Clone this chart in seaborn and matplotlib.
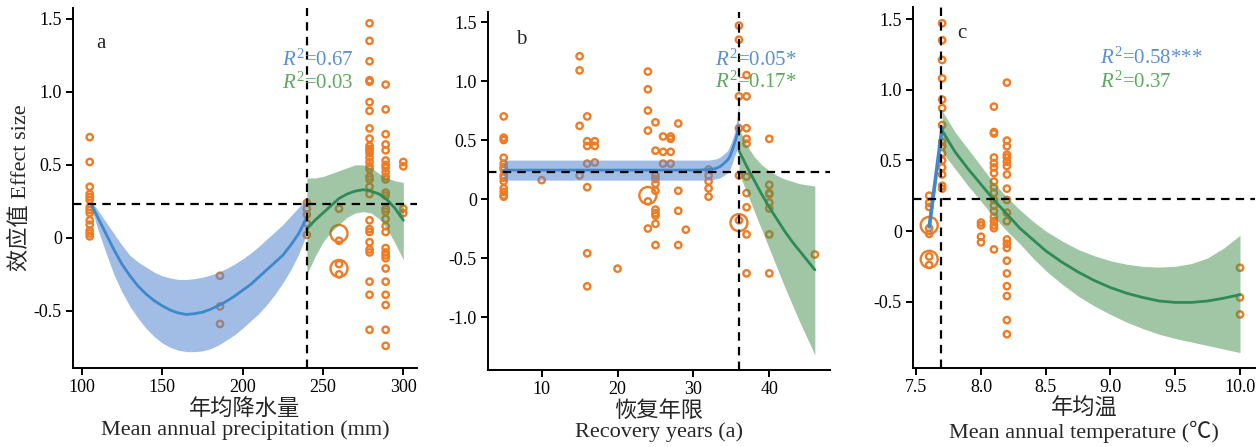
import numpy as np
import pandas as pd
import matplotlib
matplotlib.use("Agg")
import matplotlib.pyplot as plt
import seaborn as sns

sns.set_style("ticks")
plt.rcParams["font.family"] = ["Liberation Serif", "Noto Sans CJK SC"]
plt.rcParams["mathtext.fontset"] = "custom"
plt.rcParams["mathtext.rm"] = "Liberation Serif"
plt.rcParams["mathtext.it"] = "Liberation Serif:italic"
plt.rcParams["axes.unicode_minus"] = False

# ---------------- data: panel a (precipitation) ----------------
a_cols = [105, 186, 240, 260, 279, 289, 300]
a_vals = [
    [0.69, 0.52, 0.35, 0.30, 0.28, 0.26, 0.21, 0.19, 0.17, 0.12, 0.09, 0.05, 0.03, 0.01],
    [-0.26, -0.47, -0.59],
    [0.24, 0.20, 0.16, 0.10, 0.02],
    [0.20, -0.02, -0.18, -0.25],
    [1.47, 1.35, 1.21, 1.08, 1.07, 0.93, 0.87, 0.75, 0.68, 0.63, 0.61, 0.60, 0.58, 0.55,
     0.52, 0.49, 0.47, 0.42, 0.40, 0.35, 0.30, 0.12, 0.06, 0.04, -0.03, -0.08, -0.10,
     -0.30, -0.39, -0.63],
    [1.05, 0.88, 0.71, 0.64, 0.60, 0.53, 0.50, 0.48, 0.45, 0.42, 0.40, 0.31, 0.29, 0.20,
     0.18, 0.13, 0.08, 0.04, -0.07, -0.10, -0.12, -0.14, -0.21, -0.30, -0.39, -0.46,
     -0.63, -0.74],
    [0.52, 0.49, 0.20, 0.17],
]
a_big_x = [260, 260]
a_big_y = [0.03, -0.21]

a_blue_x = [106, 110, 115, 120, 125, 130, 135, 140, 145, 150, 155, 160, 165, 170, 175, 180,
            185, 190, 195, 200, 205, 210, 215, 220, 225, 230, 235, 240]
a_blue_fit = [0.23, 0.14, 0.03, -0.08, -0.18, -0.26, -0.33, -0.385, -0.43, -0.465, -0.495,
              -0.515, -0.525, -0.52, -0.51, -0.49, -0.465, -0.435, -0.40, -0.36, -0.32,
              -0.27, -0.22, -0.17, -0.12, -0.05, 0.03, 0.14]
a_blue_lo = [0.21, 0.06, -0.10, -0.25, -0.37, -0.47, -0.55, -0.62, -0.675, -0.72, -0.75,
             -0.77, -0.78, -0.78, -0.775, -0.76, -0.735, -0.70, -0.665, -0.62, -0.57,
             -0.52, -0.46, -0.39, -0.31, -0.22, -0.11, 0.03]
a_blue_hi = [0.25, 0.19, 0.11, 0.03, -0.05, -0.12, -0.165, -0.20, -0.235, -0.26, -0.275,
             -0.285, -0.285, -0.28, -0.27, -0.255, -0.235, -0.21, -0.18, -0.145, -0.105,
             -0.06, -0.01, 0.04, 0.09, 0.15, 0.21, 0.27]

a_green_x = [240, 245, 250, 255, 260, 265, 270, 275, 280, 285, 290, 295, 300]
a_green_fit = [0.06, 0.12, 0.17, 0.22, 0.27, 0.30, 0.32, 0.33, 0.32, 0.30, 0.26, 0.20, 0.12]
a_green_lo = [-0.25, -0.13, -0.03, 0.04, 0.09, 0.14, 0.17, 0.18, 0.17, 0.13, 0.06, -0.04, -0.15]
a_green_hi = [0.41, 0.41, 0.42, 0.44, 0.46, 0.48, 0.50, 0.50, 0.48, 0.44, 0.41, 0.39, 0.38]

# ---------------- data: panel b (recovery years) ----------------
b_cols = [5, 10, 15, 16, 17, 20, 24, 25, 26, 27, 28, 29, 32, 36, 37, 40, 46]
b_vals = [
    [0.70, 0.52, 0.50, 0.35, 0.30, 0.27, 0.25, 0.20, 0.18, 0.15, 0.09, 0.06, 0.03, 0.02],
    [0.16],
    [1.21, 1.09, 0.62, 0.20],
    [0.70, 0.49, 0.45, 0.30, 0.10, -0.46, -0.74],
    [0.49, 0.45, 0.31],
    [-0.59],
    [1.08, 0.93, 0.75, 0.58, -0.02, -0.25],
    [0.65, 0.41, 0.20, 0.17, 0.13, 0.07, -0.09, -0.12, -0.14, -0.21, -0.39],
    [0.53, 0.40, 0.30],
    [0.53, 0.51, 0.40, 0.30],
    [0.64, 0.07, -0.10, -0.39],
    [-0.26],
    [0.25, 0.20, 0.15, 0.09, 0.02],
    [1.47, 1.35, 0.87, 0.60, 0.20, -0.18],
    [1.05, 0.87, 0.60, 0.51, 0.47, 0.19, 0.05, -0.07, -0.30, -0.63],
    [0.51, 0.12, 0.05, 0.04, -0.03, -0.08, -0.30, -0.63],
    [-0.47],
]
b_big_x = [24, 36]
b_big_y = [0.03, -0.20]

b_blue_x = [5, 10, 15, 20, 25, 30, 31, 32, 32.5, 33, 33.5, 34, 34.5, 34.8, 35.1, 35.4,
            35.6, 35.8, 36]
b_blue_fit = [0.245, 0.245, 0.245, 0.245, 0.245, 0.245, 0.246, 0.25, 0.253, 0.26, 0.275,
              0.30, 0.33, 0.36, 0.41, 0.47, 0.51, 0.56, 0.62]
b_blue_lo = [0.16, 0.16, 0.16, 0.16, 0.16, 0.16, 0.16, 0.16, 0.165, 0.17, 0.18, 0.20, 0.22,
             0.25, 0.30, 0.36, 0.39, 0.43, 0.46]
b_blue_hi = [0.33, 0.33, 0.33, 0.33, 0.33, 0.33, 0.33, 0.33, 0.335, 0.34, 0.355, 0.38, 0.41,
             0.45, 0.50, 0.56, 0.62, 0.71, 0.84]

b_green_x = [36, 37, 38, 39, 40, 41, 42, 43, 44, 45, 46]
b_green_fit = [0.41, 0.28, 0.16, 0.04, -0.07, -0.17, -0.27, -0.36, -0.44, -0.52, -0.60]
b_green_lo = [0.22, 0.06, -0.10, -0.26, -0.42, -0.58, -0.74, -0.89, -1.04, -1.18, -1.32]
b_green_hi = [0.60, 0.46, 0.36, 0.29, 0.24, 0.20, 0.17, 0.15, 0.13, 0.12, 0.11]

# ---------------- data: panel c (temperature) ----------------
c_cols = [7.6, 7.7, 8.0, 8.1, 8.2, 10.0]
c_vals = [
    [0.25, 0.20, 0.17, 0.02, -0.02, -0.18, -0.24],
    [1.47, 1.35, 1.21, 1.08, 0.93, 0.87, 0.75, 0.63, 0.60, 0.55, 0.50, 0.45, 0.40, 0.32, 0.30],
    [0.06, 0.04, -0.04, -0.08],
    [0.88, 0.70, 0.69, 0.52, 0.48, 0.45, 0.41, 0.35, 0.31, 0.27, 0.22, 0.18, 0.14, 0.10,
     0.07, 0.04, 0.02, -0.13],
    [1.05, 0.64, 0.60, 0.54, 0.52, 0.49, 0.46, 0.40, 0.30, 0.22, 0.13, 0.07, -0.06, -0.09,
     -0.12, -0.21, -0.30, -0.39, -0.46, -0.63, -0.73],
    [-0.26, -0.47, -0.59],
]
c_big_x = [7.6, 7.6]
c_big_y = [0.04, -0.20]

c_blue_x = [7.6, 7.7]
c_blue_fit = [0.03, 0.73]
c_blue_lo = [-0.07, 0.70]
c_blue_hi = [0.05, 0.76]

c_green_x = [7.7, 7.8, 7.9, 8.0, 8.1, 8.2, 8.3, 8.4, 8.5, 8.625, 8.75, 8.875, 9.0, 9.125,
             9.25, 9.375, 9.5, 9.625, 9.75, 9.875, 10.0]
c_green_fit = [0.71, 0.56, 0.44, 0.33, 0.22, 0.12, 0.02, -0.06, -0.14, -0.22, -0.29, -0.35,
               -0.40, -0.44, -0.47, -0.495, -0.505, -0.505, -0.495, -0.475, -0.45]
c_green_lo = [0.56, 0.44, 0.32, 0.21, 0.10, 0.00, -0.09, -0.19, -0.28, -0.375, -0.46, -0.53,
              -0.59, -0.645, -0.69, -0.73, -0.76, -0.785, -0.81, -0.835, -0.86]
c_green_hi = [0.85, 0.70, 0.58, 0.46, 0.34, 0.24, 0.15, 0.07, 0.00, -0.07, -0.13, -0.175,
              -0.21, -0.235, -0.25, -0.255, -0.25, -0.23, -0.19, -0.12, -0.03]

ref_y = 0.23
a_vline, b_vline, c_vline = 240, 36, 7.69

y_ticks_ac = [-0.5, 0, 0.5, 1.0, 1.5]
y_labels_ac = ["-0.5", "0", "0.5", "1.0", "1.5"]
y_ticks_b = [-1.0, -0.5, 0, 0.5, 1.0, 1.5]
y_labels_b = ["-1.0", "-0.5", "0", "0.5", "1.0", "1.5"]
a_xticks = [100, 150, 200, 250, 300]
b_xticks = [10, 20, 30, 40]
c_xticks = [7.5, 8.0, 8.5, 9.0, 9.5, 10.0]
c_xlabels = ["7.5", "8.0", "8.5", "9.0", "9.5", "10.0"]

xlabels = ["年均降水量\nMean annual precipitation (mm)",
           "恢复年限\nRecovery years (a)",
           "年均温\nMean annual temperature (℃)"]
ylabel = "效应值 Effect size"
blue_r2 = [r"$R^2$=0.67", r"$R^2$=0.05*", r"$R^2$=0.58***"]
green_r2 = [r"$R^2$=0.03", r"$R^2$=0.17*", r"$R^2$=0.37"]
panel_letters = ["a", "b", "c"]

# ---------------- styling ----------------
ORANGE = "#EF7B25"
BLUE_LINE = "#3E88CB"
BLUE_BAND = "#5587D2"
GREEN_LINE = "#2E8A57"
GREEN_BAND = "#448E4F"
BLUE_TXT = "#5A8FD2"
GREEN_TXT = "#5BAA5E"

W, H = 1259, 447
fig = plt.figure(figsize=(W / 100, H / 100), dpi=100)


def px_axes(l, t, r, b):
    return fig.add_axes([l / W, 1 - b / H, (r - l) / W, (b - t) / H])


axes = [px_axes(73, 8, 417, 368), px_axes(488, 12, 830, 370), px_axes(913, 7, 1255, 368)]


def expand(cols, vals):
    xs, ys = [], []
    for c, v in zip(cols, vals):
        xs += [c] * len(v)
        ys += v
    return pd.DataFrame({"x": xs, "y": ys})


panels = [
    dict(cols=a_cols, vals=a_vals, bx=a_big_x, by=a_big_y,
         blue=(a_blue_x, a_blue_fit, a_blue_lo, a_blue_hi),
         green=(a_green_x, a_green_fit, a_green_lo, a_green_hi),
         vline=a_vline, xlim=(94.6, 308.5), ylim=(-0.892, 1.575),
         xticks=a_xticks, xtl=[str(v) for v in a_xticks],
         yticks=y_ticks_ac, ytl=y_labels_ac),
    dict(cols=b_cols, vals=b_vals, bx=b_big_x, by=b_big_y,
         blue=(b_blue_x, b_blue_fit, b_blue_lo, b_blue_hi),
         green=(b_green_x, b_green_fit, b_green_lo, b_green_hi),
         vline=b_vline, xlim=(2.93, 48.0), ylim=(-1.449, 1.585),
         xticks=b_xticks, xtl=[str(v) for v in b_xticks],
         yticks=y_ticks_b, ytl=y_labels_b),
    dict(cols=c_cols, vals=c_vals, bx=c_big_x, by=c_big_y,
         blue=(c_blue_x, c_blue_fit, c_blue_lo, c_blue_hi),
         green=(c_green_x, c_green_fit, c_green_lo, c_green_hi),
         vline=c_vline, xlim=(7.475, 10.116), ylim=(-0.969, 1.585),
         xticks=c_xticks, xtl=c_xlabels,
         yticks=y_ticks_ac, ytl=y_labels_ac),
]

for i, (ax, p) in enumerate(zip(axes, panels)):
    df = expand(p["cols"], p["vals"])
    sns.scatterplot(data=df, x="x", y="y", ax=ax, marker="o", s=21,
                    facecolor="none", edgecolor=ORANGE, linewidth=1.7, zorder=2)
    sns.scatterplot(x=p["bx"], y=p["by"], ax=ax, marker="o", s=150,
                    facecolor="none", edgecolor=ORANGE, linewidth=1.7, zorder=2)
    bx, bf, bl, bh = p["blue"]
    ax.fill_between(bx, bl, bh, color=BLUE_BAND, alpha=0.55, lw=0, zorder=3)
    sns.lineplot(x=bx, y=bf, ax=ax, color=BLUE_LINE, lw=2.0 if i < 2 else 2.6,
                 errorbar=None, zorder=4)
    gx, gf, gl, gh = p["green"]
    ax.fill_between(gx, gl, gh, color=GREEN_BAND, alpha=0.5, lw=0, zorder=3)
    sns.lineplot(x=gx, y=gf, ax=ax, color=GREEN_LINE, lw=2.0, errorbar=None, zorder=4)

    ax.axhline(ref_y, color="black", lw=1.6, ls=(0, (3.8, 2.8)), zorder=6)
    ax.axvline(p["vline"], color="black", lw=1.6, ls=(0, (3.8, 2.8)), zorder=6)

    ax.set_xlim(*p["xlim"])
    ax.set_ylim(*p["ylim"])
    ax.set_xticks(p["xticks"])
    ax.set_xticklabels(p["xtl"])
    ax.set_yticks(p["yticks"])
    ax.set_yticklabels(p["ytl"])
    ax.tick_params(direction="out", length=5, width=1.4, labelsize=13, pad=3,
                   colors="black")
    for s in ("left", "bottom"):
        ax.spines[s].set_linewidth(1.4)
        ax.spines[s].set_color("black")
    sns.despine(ax=ax)
    ax.set_xlabel(xlabels[i], fontsize=16, linespacing=1.05, labelpad=2)
    ax.set_ylabel("")

axes[0].set_ylabel(ylabel, fontsize=16, labelpad=2)

# panel letters
for (xp, yp), letter in zip([(101, 43), (521, 40), (962, 33)], panel_letters):
    fig.text(xp / W, 1 - yp / H, letter, fontsize=15, ha="center", va="center")

# R^2 annotations
for (xp, yb, yg), bt, gt in zip([(282, 60, 83), (715, 60, 82), (1100, 58, 82)], blue_r2, green_r2):
    fig.text(xp / W, 1 - yb / H, bt, fontsize=15, color=BLUE_TXT, ha="left", va="center")
    fig.text(xp / W, 1 - yg / H, gt, fontsize=15, color=GREEN_TXT, ha="left", va="center")

fig.savefig("out.png", dpi=100)
